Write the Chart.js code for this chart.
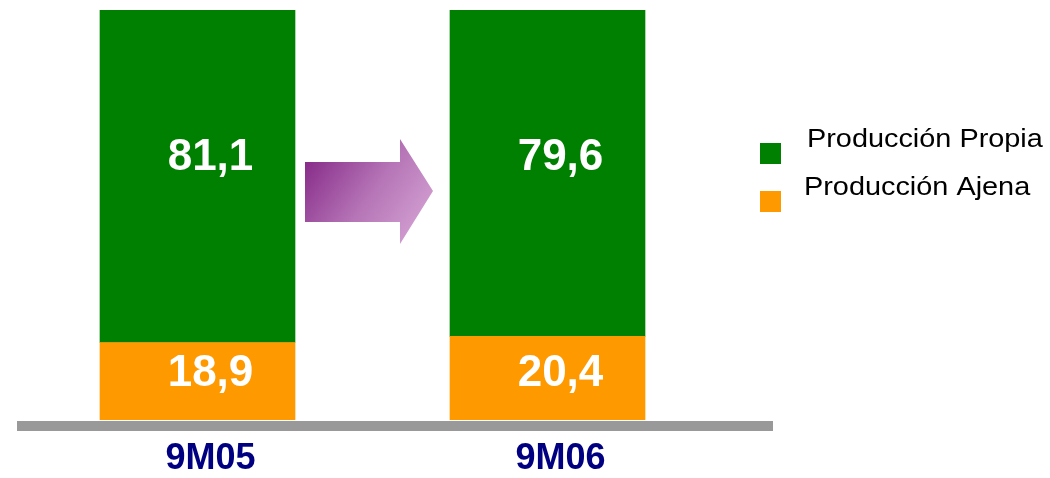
<!DOCTYPE html>
<html>
<head>
<meta charset="utf-8">
<script src="https://cdn.jsdelivr.net/npm/chart.js@4.4.1/dist/chart.umd.min.js"></script>
<style>
  html, body { margin: 0; padding: 0; background: #fff; }
  #wrap { width: 1050px; height: 478px; position: relative; }
</style>
</head>
<body>
<div id="wrap"><canvas id="prodChart" width="1050" height="478"></canvas></div>
<script>
  const categories = ['9M05', '9M06'];
  const seriesNames = ['Producción Ajena', 'Producción Propia'];
  const ajena = [18.9, 20.4];
  const propia = [81.1, 79.6];
  const colors = ['#FF9900', '#008000'];

  const FONT = "'Liberation Sans', Arial, sans-serif";
  const fmt = v => v.toFixed(1).replace('.', ',');

  // Etiquetas, flecha, eje base y leyenda
  const decor = {
    id: 'decor',
    afterDatasetsDraw(chart) {
      const { ctx, chartArea, scales } = chart;
      ctx.save();

      // línea base gris
      ctx.fillStyle = '#999999';
      ctx.fillRect(17, chartArea.bottom + 1, 756, 10);

      // valores dentro de las barras
      ctx.fillStyle = '#ffffff';
      ctx.font = 'bold 44px ' + FONT;
      ctx.textAlign = 'center';
      ctx.textBaseline = 'middle';
      chart.data.datasets.forEach((ds, di) => {
        chart.getDatasetMeta(di).data.forEach((bar, i) => {
          const y = di === 0 ? chartArea.bottom - 46 : chartArea.top + 148;
          ctx.fillText(fmt(ds.data[i]), bar.x + 13, y);
        });
      });

      // categorías
      ctx.fillStyle = '#000080';
      ctx.font = 'bold 36px ' + FONT;
      categories.forEach((c, i) => {
        ctx.fillText(c, scales.x.getPixelForValue(i) + 13, chartArea.bottom + 39);
      });

      // flecha
      const g = ctx.createLinearGradient(305, 150, 433, 240);
      g.addColorStop(0, '#832585');
      g.addColorStop(0.5, '#B574B6');
      g.addColorStop(1, '#D9AAD8');
      ctx.fillStyle = g;
      ctx.beginPath();
      ctx.moveTo(305, 162);
      ctx.lineTo(400, 162);
      ctx.lineTo(400, 139);
      ctx.lineTo(433, 191);
      ctx.lineTo(400, 244);
      ctx.lineTo(400, 222);
      ctx.lineTo(305, 222);
      ctx.closePath();
      ctx.fill();

      // leyenda
      ctx.textAlign = 'left';
      ctx.font = '26px ' + FONT;
      const items = [
        { name: seriesNames[1], color: colors[1], box: 143, text: 140, tx: 807 },
        { name: seriesNames[0], color: colors[0], box: 191, text: 188, tx: 804 }
      ];
      items.forEach(it => {
        ctx.fillStyle = it.color;
        ctx.fillRect(760, it.box, 21, 21);
        ctx.fillStyle = '#000000';
        ctx.save();
        ctx.translate(it.tx, it.text);
        ctx.scale(1.11, 1);
        ctx.fillText(it.name, 0, 0);
        ctx.restore();
      });

      ctx.restore();
    }
  };

  new Chart(document.getElementById('prodChart'), {
    type: 'bar',
    data: {
      labels: categories,
      datasets: [
        { label: seriesNames[0], data: ajena, backgroundColor: colors[0] },
        { label: seriesNames[1], data: propia, backgroundColor: colors[1] }
      ]
    },
    options: {
      responsive: false,
      animation: false,
      layout: { padding: { left: 22.5, right: 327.5, top: 10, bottom: 58 } },
      datasets: { bar: { barThickness: 195, borderWidth: 0 } },
      plugins: { legend: { display: false }, tooltip: { enabled: false } },
      scales: {
        x: { stacked: true, display: false, offset: true },
        y: { stacked: true, display: false, min: 0, max: 100 }
      }
    },
    plugins: [decor]
  });
</script>
</body>
</html>
